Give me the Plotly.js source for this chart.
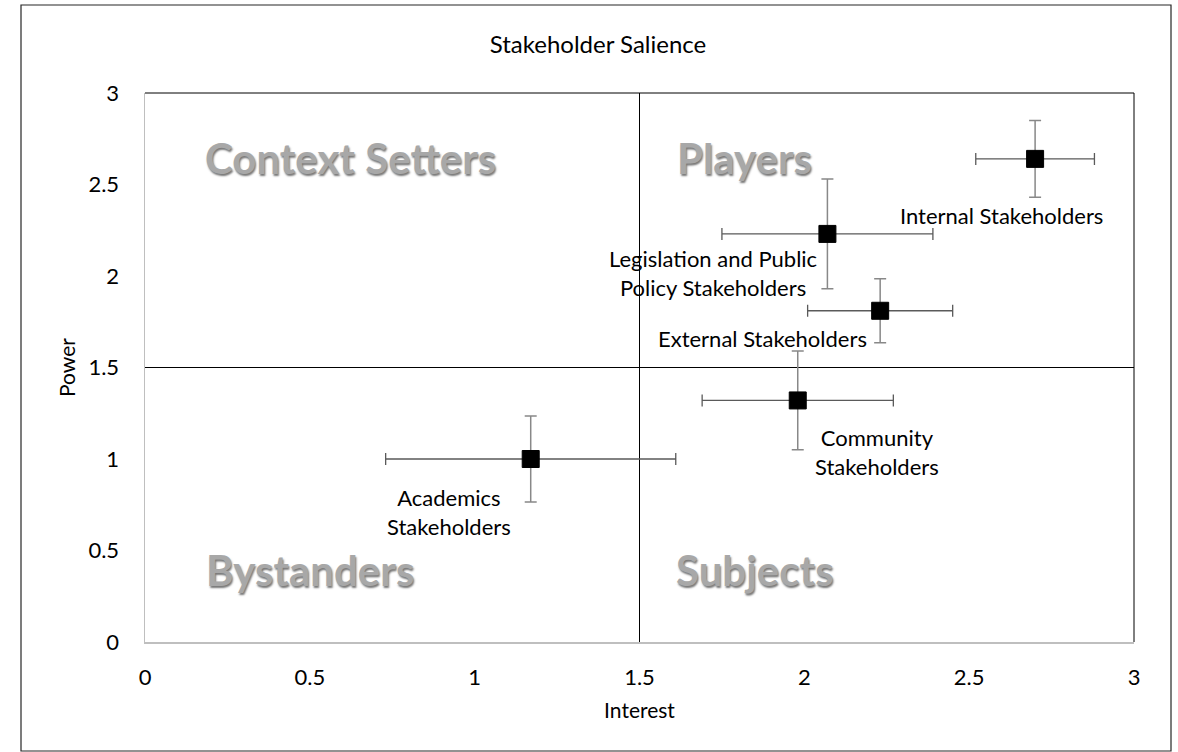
<!DOCTYPE html>
<html>
<head>
<meta charset="utf-8">
<script src="https://cdn.plot.ly/plotly-3.0.1.min.js"></script>
<style>
html,body{margin:0;padding:0;background:#fff;}
#chart{width:1178px;height:752px;}
</style>
</head>
<body>
<div id="chart"></div>
<script>
// ---- data ----
const stakeholders = ["Internal Stakeholders", "Legislation and Public Policy Stakeholders", "External Stakeholders", "Community Stakeholders", "Academics Stakeholders"];
const labelText = ["Internal Stakeholders", "Legislation and Public<br>Policy Stakeholders", "External Stakeholders", "Community<br>Stakeholders", "Academics<br>Stakeholders"];
const interest = [2.70, 2.07, 2.23, 1.98, 1.17];
const power = [2.64, 2.23, 1.81, 1.32, 1.00];
const interestErr = [0.18, 0.32, 0.22, 0.29, 0.44];
const powerErr = [0.21, 0.30, 0.175, 0.27, 0.235];
const quadrantNames = ["Context Setters", "Players", "Bystanders", "Subjects"];
const midpoint = 1.5;
const axisRange = [0, 3];
const tickVals = [0, 0.5, 1, 1.5, 2, 2.5, 3];
const tickText = ["0", "0.5", "1", "1.5", "2", "2.5", "3"];

// ---- label placement (layout, data coords) ----
const labelX = [2.597, 1.724, 1.872, 2.220, 0.922];
const labelY = [2.333, 2.018, 1.659, 1.036, 0.712];
const quadX = [0.176, 1.608, 0.180, 1.606];
const quadY = [2.645, 2.645, 0.393, 0.393];

const FONT = 'Lato, "Open Sans", sans-serif';

const traces = [
  {x: [midpoint, midpoint], y: axisRange, mode: 'lines', line: {color: '#000', width: 1}, hoverinfo: 'skip', showlegend: false},
  {x: axisRange, y: [midpoint, midpoint], mode: 'lines', line: {color: '#000', width: 1}, hoverinfo: 'skip', showlegend: false},
  {
    x: interest, y: power, text: stakeholders, mode: 'markers', type: 'scatter', showlegend: false,
    marker: {symbol: 'square', size: 17, color: '#000', line: {color: '#000', width: 1}},
    error_x: {type: 'data', array: interestErr, visible: true, color: '#5a5a5a', thickness: 1.3, width: 6},
    error_y: {type: 'data', array: powerErr, visible: true, color: '#888888', thickness: 1.5, width: 6}
  }
];

const annotations = [];
for (let i = 0; i < labelText.length; i++) {
  annotations.push({x: labelX[i], y: labelY[i], xref: 'x', yref: 'y', text: labelText[i], showarrow: false,
    xanchor: 'center', yanchor: 'middle', align: 'center', font: {family: FONT, size: 22, color: '#000'}});
}
for (let i = 0; i < quadrantNames.length; i++) {
  annotations.push({x: quadX[i], y: quadY[i], xref: 'x', yref: 'y', text: quadrantNames[i], showarrow: false,
    xanchor: 'left', yanchor: 'middle',
    font: {family: FONT, size: 42, color: '#a8a8a8', weight: 'bold', shadow: '1px 2px 2px #777777'}});
}

const L = 145, T = 93, W = 989, H = 549;
function px(x) { return (x - L) / W; }
function py(y) { return (T + H - y) / H; }

const layout = {
  width: 1178, height: 752,
  margin: {l: L, r: 1178 - L - W, t: T, b: 752 - T - H},
  paper_bgcolor: '#fff', plot_bgcolor: '#fff',
  font: {family: FONT, size: 22, color: '#000'},
  title: {text: 'Stakeholder Salience', x: 598 / 1178, xanchor: 'center', y: 1 - 45 / 752, yanchor: 'middle', font: {family: FONT, size: 24, color: '#000'}},
  xaxis: {range: axisRange, tickvals: tickVals, ticktext: tickText, showgrid: false, zeroline: false,
    showline: true, linecolor: '#bfbfbf', linewidth: 1.5, ticks: '', ticklabelstandoff: 15,
    title: {text: 'Interest', standoff: 14, font: {family: FONT, size: 21}}, fixedrange: true},
  yaxis: {range: axisRange, tickvals: tickVals, ticktext: tickText, showgrid: false, zeroline: false,
    showline: true, linecolor: '#bfbfbf', linewidth: 1.5, ticks: '', ticklabelstandoff: 20,
    title: {text: 'Power', standoff: 7, font: {family: FONT, size: 21}}, fixedrange: true},
  shapes: [
    {type: 'line', xref: 'paper', yref: 'paper', x0: 0, x1: 1, y0: 1, y1: 1, line: {color: '#000', width: 1}},
    {type: 'line', xref: 'paper', yref: 'paper', x0: 1, x1: 1, y0: 0, y1: 1, line: {color: '#000', width: 1}},
    {type: 'rect', xref: 'paper', yref: 'paper', x0: px(21), x1: px(1171), y0: py(751), y1: py(5), line: {color: '#262626', width: 1.2}, fillcolor: 'rgba(0,0,0,0)'}
  ],
  annotations: annotations
};

Plotly.newPlot('chart', traces, layout, {displayModeBar: false, staticPlot: true});
</script>
</body>
</html>
